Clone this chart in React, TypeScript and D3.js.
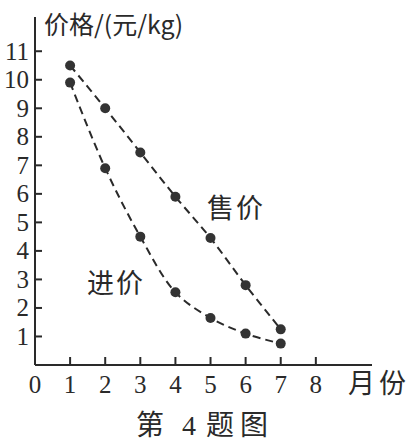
import React from "react";
import * as d3 from "d3";

const months = [1, 2, 3, 4, 5, 6, 7];
const sellPrice = [10.5, 9.0, 7.45, 5.9, 4.45, 2.8, 1.25];
const buyPrice = [9.9, 6.9, 4.5, 2.55, 1.65, 1.1, 0.75];
const xTicks = [0, 1, 2, 3, 4, 5, 6, 7, 8];
const yTicks = [1, 2, 3, 4, 5, 6, 7, 8, 9, 10, 11];

const W = 410;
const H = 446;
const serif = "'Liberation Serif', 'DejaVu Serif', 'Noto Sans CJK SC', serif";
const cjk = "'Noto Sans CJK SC', 'Liberation Serif', serif";
const ink = "#2a2a2a";

export default function App() {
  const x = d3.scaleLinear().domain([0, 9.6]).range([35, 372]);
  const y = d3.scaleLinear().domain([0, 12.2]).range([365, 17]);

  const line = d3
    .line<number>()
    .x((_, i) => x(months[i]))
    .y((d) => y(d))
    .curve(d3.curveCatmullRom.alpha(0.5));

  return (
    <svg
      width={W}
      height={H}
      style={{ position: "absolute", left: 0, top: 0, background: "#fff" }}
    >
      {/* axes */}
      <line x1={x(0)} x2={x(0)} y1={y(0)} y2={y(12.2)} stroke={ink} strokeWidth={2} />
      <line x1={x(0)} x2={x(9.6)} y1={y(0)} y2={y(0)} stroke={ink} strokeWidth={2} />
      {yTicks.map((t) => (
        <g key={"y" + t}>
          <line x1={x(0)} x2={x(0) + 7} y1={y(t)} y2={y(t)} stroke={ink} strokeWidth={2} />
          <text
            x={x(0) - 6}
            y={y(t)}
            dy="0.34em"
            textAnchor="end"
            fontFamily={serif}
            fontSize={25}
            fill={ink}
          >
            {t}
          </text>
        </g>
      ))}
      {xTicks.map((t) => (
        <g key={"x" + t}>
          {t > 0 && (
            <line x1={x(t)} x2={x(t)} y1={y(0)} y2={y(0) - 8} stroke={ink} strokeWidth={2} />
          )}
          <text
            x={x(t)}
            y={393}
            textAnchor="middle"
            fontFamily={serif}
            fontSize={25}
            fill={ink}
          >
            {t}
          </text>
        </g>
      ))}
      <text x={348} y={393} fontFamily={cjk} fontSize={27} letterSpacing={4} fill={ink}>
        月份
      </text>
      <text x={44} y={34} fontFamily={cjk} fontSize={25} fill={ink}>
        价格/(元/kg)
      </text>

      {/* series */}
      <path
        d={line(sellPrice) || ""}
        fill="none"
        stroke={ink}
        strokeWidth={2}
        strokeDasharray="8 5"
      />
      <path
        d={line(buyPrice) || ""}
        fill="none"
        stroke={ink}
        strokeWidth={2}
        strokeDasharray="8 5"
      />
      {sellPrice.map((v, i) => (
        <circle key={"s" + i} cx={x(months[i])} cy={y(v)} r={5} fill="#333" />
      ))}
      {buyPrice.map((v, i) => (
        <circle key={"b" + i} cx={x(months[i])} cy={y(v)} r={5} fill="#333" />
      ))}

      <text x={207} y={218} fontFamily={cjk} fontSize={27} letterSpacing={2} fill={ink}>
        售价
      </text>
      <text x={87} y={293} fontFamily={cjk} fontSize={27} letterSpacing={2} fill={ink}>
        进价
      </text>
      <text x={136} y={435} fontFamily={cjk} fontSize={28} fill={ink}>
        <tspan>第</tspan>
        <tspan dx={18} fontFamily={serif}>4</tspan>
        <tspan dx={10}>题</tspan>
        <tspan dx={6}>图</tspan>
      </text>
    </svg>
  );
}
